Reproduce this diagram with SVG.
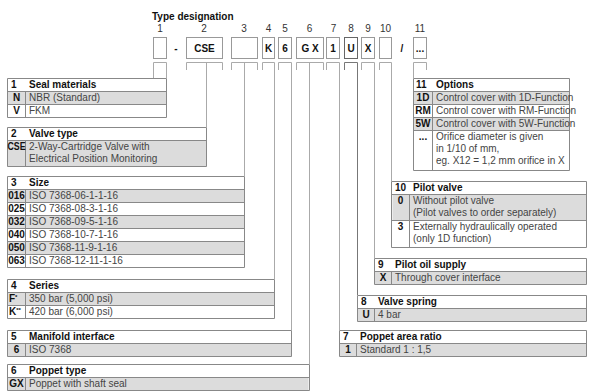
<svg xmlns="http://www.w3.org/2000/svg" width="589" height="391" viewBox="0 0 589 391">
<style>
.t{font-family:"Liberation Sans",Arial,sans-serif;font-size:10px;fill:#444}
.b{font-family:"Liberation Sans",Arial,sans-serif;font-size:10px;font-weight:bold;fill:#111}
.c{text-anchor:middle}
.n{font-family:"Liberation Sans",Arial,sans-serif;font-size:10px;fill:#333;text-anchor:middle}
.bx{fill:#fff;stroke:#999;stroke-width:1}
.ln{fill:none;stroke:#aaa;stroke-width:1}
.tb{fill:none;stroke:#888;stroke-width:1}
.sh{fill:#dcdcdc}
.wh{fill:#fff}
</style>
<rect width="589" height="391" fill="#fff"/>
<g id="header">
<text class="b" x="152" y="20" font-size="10.5">Type designation</text>
<text class="n" x="160" y="32">1</text>
<text class="n" x="204" y="32">2</text>
<text class="n" x="244" y="32">3</text>
<text class="n" x="268.5" y="32">4</text>
<text class="n" x="285" y="32">5</text>
<text class="n" x="309.5" y="32">6</text>
<text class="n" x="333.5" y="32">7</text>
<text class="n" x="351" y="32">8</text>
<text class="n" x="368" y="32">9</text>
<text class="n" x="385.5" y="32">10</text>
<text class="n" x="420" y="32">11</text>
<rect class="bx" x="153.5" y="37.5" width="13" height="21"/>
<text class="b c" x="176" y="52">-</text>
<rect class="bx" x="186.5" y="37.5" width="36" height="21"/>
<text class="b c" x="204.5" y="52">CSE</text>
<rect class="bx" x="231.5" y="37.5" width="26" height="21"/>
<rect class="bx" x="262.5" y="37.5" width="12" height="21"/>
<text class="b c" x="268.5" y="52">K</text>
<rect class="bx" x="278.5" y="37.5" width="13" height="21"/>
<text class="b c" x="285" y="52">6</text>
<rect class="bx" x="296.5" y="37.5" width="27" height="21"/>
<text class="b c" x="310" y="52">G  X</text>
<rect class="bx" x="326.5" y="37.5" width="13" height="21"/>
<text class="b c" x="333" y="52">1</text>
<rect class="bx" x="344.5" y="37.5" width="13" height="21" style="stroke:#666"/>
<text class="b c" x="351" y="52">U</text>
<rect class="bx" x="361.5" y="37.5" width="13" height="21"/>
<text class="b c" x="368" y="52">X</text>
<rect class="bx" x="379.5" y="37.5" width="12" height="21"/>
<text class="b c" x="402" y="52">/</text>
<rect class="bx" x="413.5" y="37.5" width="13" height="21"/>
<text class="b c" x="420" y="52">...</text>
</g>
<g id="connectors">
<path class="ln" d="M153.5,78 V62.5 H166.5 V78"/>
<path class="ln" d="M186.5,70 V62.5 H222.5 V70 M206.5,62.5 V127"/>
<path class="ln" d="M231.5,70 V62.5 H257.5 V70 M244.5,62.5 V176"/>
<path class="ln" d="M262.5,70 V62.5 H274.5 V279"/>
<path class="ln" d="M278.5,70 V62.5 H291.5 V330"/>
<path class="ln" d="M296.5,70 V62.5 H323.5 V70 M309.5,62.5 V364"/>
<path class="ln" d="M326.5,70 V62.5 H339.5 V330"/>
<path class="ln" d="M344.5,70 V62.5 H357.5 V295" style="stroke:#777"/>
<path class="ln" d="M361.5,70 V62.5 H374.5 V258"/>
<path class="ln" d="M379.5,70 V62.5 H391.5 V181"/>
<path class="ln" d="M426.5,70 V62.5 H413.5 V78"/>
</g>
<g id="t1">
<rect class="sh" x="7.5" y="91.5" width="159" height="13"/>
<path class="tb" d="M7.5,78.5 H166.5 V117.5 H7.5 Z M7.5,91.5 H166.5 M7.5,104.5 H166.5 M25.5,91.5 V117.5"/>
<text class="b" x="11" y="88">1</text><text class="b" x="29" y="88">Seal materials</text>
<text class="b c" x="16.5" y="101">N</text><text class="t" x="29" y="101">NBR (Standard)</text>
<text class="b c" x="16.5" y="114">V</text><text class="t" x="29" y="114">FKM</text>
</g>
<g id="t2">
<rect class="sh" x="7.5" y="140.5" width="199" height="26"/>
<path class="tb" d="M7.5,127.5 H206.5 V166.5 H7.5 Z M7.5,140.5 H206.5 M25.5,140.5 V166.5"/>
<text class="b" x="11" y="137">2</text><text class="b" x="29" y="137">Valve type</text>
<text class="b c" x="16.5" y="150" textLength="18" lengthAdjust="spacingAndGlyphs">CSE</text>
<text class="t" x="29" y="150">2-Way-Cartridge Valve with</text>
<text class="t" x="29" y="162">Electrical Position Monitoring</text>
</g>
<g id="t3">
<rect class="sh" x="7.5" y="189.5" width="237" height="13"/>
<rect class="sh" x="7.5" y="215.5" width="237" height="13"/>
<rect class="sh" x="7.5" y="241.5" width="237" height="13"/>
<path class="tb" d="M7.5,176.5 H244.5 V267.5 H7.5 Z M7.5,189.5 H244.5 M7.5,202.5 H244.5 M7.5,215.5 H244.5 M7.5,228.5 H244.5 M7.5,241.5 H244.5 M7.5,254.5 H244.5 M25.5,189.5 V267.5"/>
<text class="b" x="11" y="186">3</text><text class="b" x="29" y="186">Size</text>
<text class="b c" x="16.5" y="199">016</text><text class="t" x="29" y="199">ISO 7368-06-1-1-16</text>
<text class="b c" x="16.5" y="212">025</text><text class="t" x="29" y="212">ISO 7368-08-3-1-16</text>
<text class="b c" x="16.5" y="225">032</text><text class="t" x="29" y="225">ISO 7368-09-5-1-16</text>
<text class="b c" x="16.5" y="238">040</text><text class="t" x="29" y="238">ISO 7368-10-7-1-16</text>
<text class="b c" x="16.5" y="251">050</text><text class="t" x="29" y="251">ISO 7368-11-9-1-16</text>
<text class="b c" x="16.5" y="264">063</text><text class="t" x="29" y="264">ISO 7368-12-11-1-16</text>
</g>
<g id="t4">
<rect class="sh" x="7.5" y="292.5" width="267" height="13"/>
<path class="tb" d="M7.5,279.5 H274.5 V318.5 H7.5 Z M7.5,292.5 H274.5 M7.5,305.5 H274.5 M25.5,292.5 V318.5"/>
<text class="b" x="11" y="289">4</text><text class="b" x="29" y="289">Series</text>
<text class="b" x="9" y="302">F<tspan font-size="6" dy="-3">*</tspan></text><text class="t" x="29" y="302">350 bar (5,000 psi)</text>
<text class="b" x="9" y="315">K<tspan font-size="6" dy="-3">**</tspan></text><text class="t" x="29" y="315">420 bar (6,000 psi)</text>
</g>
<g id="t5">
<rect class="sh" x="7.5" y="343.5" width="284" height="13"/>
<path class="tb" d="M7.5,330.5 H291.5 V356.5 H7.5 Z M7.5,343.5 H291.5 M25.5,343.5 V356.5"/>
<text class="b" x="11" y="340">5</text><text class="b" x="29" y="340">Manifold interface</text>
<text class="b c" x="16.5" y="353">6</text><text class="t" x="29" y="353">ISO 7368</text>
</g>
<g id="t6">
<rect class="sh" x="7.5" y="377.5" width="301" height="13"/>
<path class="tb" d="M7.5,364.5 H309.5 V390.5 H7.5 Z M7.5,377.5 H309.5 M25.5,377.5 V390.5"/>
<text class="b" x="11" y="374">6</text><text class="b" x="29" y="374">Poppet type</text>
<text class="b c" x="16.5" y="387">GX</text><text class="t" x="29" y="387">Poppet with shaft seal</text>
</g>
<g id="t11">
<rect class="sh" x="413.5" y="91.5" width="156" height="13"/>
<rect class="sh" x="413.5" y="117.5" width="156" height="13"/>
<path class="tb" d="M413.5,78.5 H569.5 V170.5 H413.5 Z M413.5,91.5 H569.5 M413.5,104.5 H569.5 M413.5,117.5 H569.5 M413.5,130.5 H569.5 M432.5,91.5 V170.5"/>
<text class="b" x="416" y="88">11</text><text class="b" x="436" y="88">Options</text>
<text class="b c" x="423" y="101">1D</text><text class="t" x="436" y="101">Control cover with 1D-Function</text>
<text class="b c" x="423" y="114">RM</text><text class="t" x="436" y="114">Control cover with RM-Function</text>
<text class="b c" x="423" y="127">5W</text><text class="t" x="436" y="127">Control cover with 5W-Function</text>
<text class="b c" x="423" y="140">...</text><text class="t" x="436" y="140">Orifice diameter is given</text>
<text class="t" x="436" y="152">in 1/10 of mm,</text>
<text class="t" x="436" y="164">eg. X12 = 1,2 mm orifice in X</text>
</g>
<g id="t10">
<rect class="sh" x="392.5" y="194.5" width="194" height="26"/>
<path class="tb" d="M391.5,181.5 H586.5 V247.5 H391.5 Z M391.5,194.5 H586.5 M391.5,220.5 H586.5 M409.5,194.5 V247.5"/>
<text class="b" x="395" y="191">10</text><text class="b" x="413" y="191">Pilot valve</text>
<text class="b c" x="400.5" y="204">0</text><text class="t" x="413" y="204">Without pilot valve</text>
<text class="t" x="413" y="216">(Pilot valves to order separately)</text>
<text class="b c" x="400.5" y="230">3</text><text class="t" x="413" y="230">Externally hydraulically operated</text>
<text class="t" x="413" y="242">(only 1D function)</text>
</g>
<g id="t9">
<rect class="sh" x="375" y="271.5" width="211.5" height="13"/>
<path class="tb" d="M374.5,258.5 H586.5 V284.5 H374.5 Z M374.5,271.5 H586.5 M391.5,271.5 V284.5"/>
<text class="b" x="378" y="268">9</text><text class="b" x="395" y="268">Pilot oil supply</text>
<text class="b c" x="383" y="281">X</text><text class="t" x="395" y="281">Through cover interface</text>
</g>
<g id="t8">
<rect class="sh" x="358" y="308.5" width="228.5" height="13"/>
<path class="tb" d="M357.5,295.5 H586.5 V321.5 H357.5 Z M357.5,308.5 H586.5 M374.5,308.5 V321.5"/>
<text class="b" x="361" y="305">8</text><text class="b" x="378" y="305">Valve spring</text>
<text class="b c" x="366" y="318">U</text><text class="t" x="378" y="318">4 bar</text>
</g>
<g id="t7">
<rect class="sh" x="340" y="343.5" width="246.5" height="13"/>
<path class="tb" d="M339.5,330.5 H586.5 V356.5 H339.5 Z M339.5,343.5 H586.5 M356.5,343.5 V356.5"/>
<text class="b" x="343" y="340">7</text><text class="b" x="360" y="340">Poppet area ratio</text>
<text class="b c" x="348" y="353">1</text><text class="t" x="360" y="353">Standard 1 : 1,5</text>
</g>
</svg>
